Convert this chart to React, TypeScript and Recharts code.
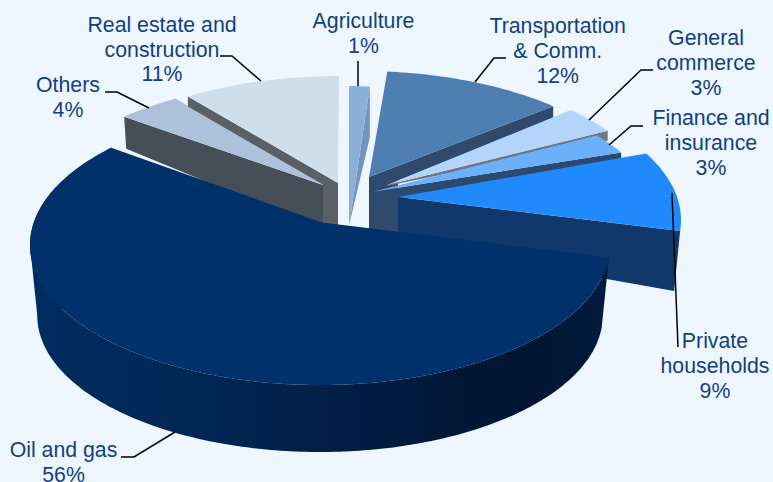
import { PieChart, Pie } from 'recharts';

// shares in drawing order: back slices first, oil and gas on top
const sectors = ['Others', 'Real estate and construction', 'Agriculture', 'Transportation & Comm.', 'General commerce', 'Finance and insurance', 'Private households', 'Oil and gas'];
const shares = [4, 11, 1, 12, 3, 3, 9, 56];

const chartData = sectors.map((name, i) => ({ name, value: shares[i] }));
const total = shares.reduce((a, b) => a + b, 0);
// the pie reads clockwise from 12 o'clock at Agriculture
const firstAngle = 90 + (360 * (shares[0] + shares[1])) / total;

const RX = 290;
const RY = 140;

// fake 3D: each slice has its own exploded position on the page
const sliceLook = [
  { apex: [323, 185], center: [320, 220], rot: 11.1, k: 0.866, top: '#adc2da', wall: '#464e58', edge: 'start', rimDrop: [2, 32], apexDrop: 45 },
  { apex: [338, 183], center: [339, 216], rot: 4.3, k: 0.785, top: '#d0deec', wall: '#5a6068', edge: 'start', rimDrop: [0, 10], apexDrop: 10.6, block: [-15, 45] },
  { apex: [349, 226], center: [345, 226], rot: 1.03, k: 1.13, top: '#8ab0da', wall: '#7294bd', edge: 'end', rimDrop: [0, 51], apexDrop: 0 },
  { apex: [369, 177], center: [361, 211], rot: -2.1, k: 0.832, top: '#4f7eb3', wall: '#2f4a6c', edge: 'end', rimDrop: [0, 12.5], apexDrop: 15, block: [29, 58] },
  { apex: [387, 185], center: [370, 211], rot: -3.3, k: 1.03, top: '#b3d5fb', wall: '#70767d', edge: 'end', rimDrop: [0, 10], apexDrop: 1 },
  { apex: [373, 191.7], center: [372, 224], rot: -8.6, k: 0.77, top: '#6bb0fb', wall: '#2c4a6e', edge: 'end', rimDrop: [0, 7], apexDrop: 13 },
  { apex: [398, 197], center: [391, 220], rot: -7.4, k: 1.005, top: '#208afd', wall: '#10386a', edge: 'end', rimDrop: [-6, 60], apexDrop: 45 },
  { apex: [322, 222.5], center: [320, 245], rot: 0.86, k: 1.075, top: '#00316b', wall: 'url(#oilWall)', edge: 'rim', rimDrop: [0, 70.5], apexDrop: 0 },
];

const labelLook = [
  { x: 68, y: 92, lines: ['Others'], leader: [[105, 92], [117, 92], [149, 108]] },
  { x: 162, y: 31.7, lines: ['Real estate and', 'construction'], leader: [[220, 56], [232, 56], [261, 81]] },
  { x: 363.5, y: 28, lines: ['Agriculture'], leader: [[358, 61], [358, 86]] },
  { x: 557.7, y: 33, lines: ['Transportation', '& Comm.'], leader: [[506, 58], [494, 58], [475, 82]] },
  { x: 706, y: 45, lines: ['General', 'commerce'], leader: [[653, 70], [641, 70], [589, 120]] },
  { x: 711, y: 125, lines: ['Finance and', 'insurance'], leader: [[643, 126], [631, 126], [609, 145]] },
  { x: 715, y: 348, lines: ['Private', 'households'], leader: [[672, 193], [678, 347]] },
  { x: 63.5, y: 457, lines: ['Oil and gas'], leader: [[121, 457], [134, 457], [175, 432]] },
];

const toPath = (pts: number[][]) => 'M' + pts.map((p) => `${p[0].toFixed(1)},${p[1].toFixed(1)}`).join('L') + 'Z';

function SliceShape(props: any) {
  const look = sliceLook[props.index];
  const a0 = 90 - props.startAngle;
  const a1 = 90 - props.endAngle;
  const mid = (a0 + a1) / 2;
  const warp = (a: number) => mid + look.rot + (a - mid) * look.k;

  const rim = (deg: number, shrink = 1) => {
    const t = (deg * Math.PI) / 180;
    return [look.center[0] + shrink * RX * Math.sin(t), look.center[1] - shrink * RY * Math.cos(t)];
  };

  const from = warp(a0);
  const to = warp(a1);
  const arc: number[][] = [];
  const steps = Math.max(2, Math.ceil(to - from));
  for (let i = 0; i <= steps; i++) arc.push(rim(from + ((to - from) * i) / steps));

  const [ax, ay] = look.apex;
  const [dx, dy] = look.rimDrop;
  const isRim = look.edge === 'rim';
  let wall: number[][];
  let side: number[][] | null = null;
  if (isRim) {
    const lower: number[][] = [];
    for (let i = steps; i >= 0; i--) {
      const p = rim(from + ((to - from) * i) / steps, 0.975);
      lower.push([p[0], p[1] + dy]);
    }
    wall = [...arc, ...lower];
    // closes the gap between the two rims at the left silhouette
    const low = rim(270, 0.975);
    side = [rim(270), [low[0], low[1] + dy], look.center];
  } else {
    const p = look.edge === 'end' ? arc[arc.length - 1] : arc[0];
    wall = [[ax, ay], p, [p[0] + dx, p[1] + dy], [ax, ay + look.apexDrop]];
  }

  return (
    <g>
      <defs>
        <linearGradient id="oilWall" gradientUnits="userSpaceOnUse" x1="30" y1="0" x2="610" y2="0">
          <stop offset="0%" stopColor="#012c60" />
          <stop offset="30%" stopColor="#012655" />
          <stop offset="70%" stopColor="#00183a" />
          <stop offset="85%" stopColor="#001530" />
          <stop offset="100%" stopColor="#001b3f" />
        </linearGradient>
      </defs>
      {look.block && (
        <path
          d={toPath([
            [ax, ay],
            [ax + look.block[0], ay],
            [ax + look.block[0], ay + look.block[1]],
            [ax, ay + look.block[1]],
          ])}
          fill={look.wall}
        />
      )}
      <path d={toPath(wall)} fill={look.wall} />
      {side && <path d={toPath(side)} fill={look.wall} />}
      <path d={toPath([[ax, ay], ...arc])} fill={look.top} />
    </g>
  );
}

function SliceLabel(props: any) {
  const look = labelLook[props.index];
  const rows = [...look.lines, `${shares[props.index]}%`];
  return (
    <g>
      <polyline
        points={look.leader.map((p) => p.join(',')).join(' ')}
        fill="none"
        stroke="#000"
        strokeWidth={1.5}
      />
      {rows.map((row, i) => (
        <text
          key={row}
          x={look.x}
          y={look.y + i * 24.8}
          textAnchor="middle"
          fill="#123f7f"
          fontSize={21.3}
          fontFamily="'Liberation Sans', Arial, sans-serif"
        >
          {row}
        </text>
      ))}
    </g>
  );
}

export default function App() {
  return (
    <div style={{ position: 'absolute', left: 0, top: 0, width: 773, height: 482, overflow: 'hidden', background: '#eef7ff' }}>
      <PieChart width={773} height={482} margin={{ top: 0, right: 0, bottom: 0, left: 0 }}>
        <Pie
          data={chartData}
          dataKey="value"
          nameKey="name"
          cx={386}
          cy={241}
          outerRadius={200}
          startAngle={firstAngle}
          endAngle={firstAngle - 360}
          stroke="none"
          shape={SliceShape}
          label={SliceLabel}
          labelLine={false}
          isAnimationActive={false}
        />
      </PieChart>
    </div>
  );
}
